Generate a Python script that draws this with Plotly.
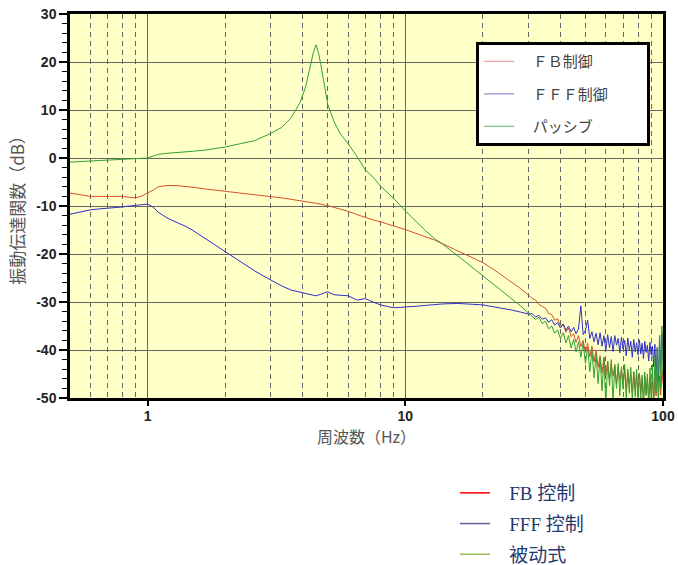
import numpy as np
import plotly.graph_objects as go

# ---------------- data ----------------
freq_lo = [0.5, 0.55, 0.6, 0.65, 0.7, 0.75, 0.8, 0.85, 0.9, 0.95, 1.0, 1.05, 1.1, 1.2, 1.3, 1.4,
           1.5, 1.7, 2.0, 2.3, 2.6, 3.0, 3.3, 3.6, 3.9, 4.1, 4.3, 4.4, 4.5, 4.6, 4.7, 4.85, 5.0,
           5.3, 5.6, 6.0, 6.5, 7.0, 7.5, 8.0, 9.0, 10, 11, 12, 13, 14, 16, 18, 20, 22, 24, 26, 28, 30]

fb_lo = [-7.3, -7.6, -8.0, -8.0, -8.0, -7.9, -8.0, -8.2, -8.3, -7.9, -7.3, -6.7, -6.0, -5.7, -5.75,
         -5.9, -6.1, -6.5, -6.95, -7.2, -7.6, -8.0, -8.3, -8.6, -8.9, -9.0, -9.2, -9.3, -9.4, -9.5,
         -9.6, -9.8, -9.9, -10.3, -10.6, -11.1, -11.8, -12.4, -12.9, -13.3, -14.1, -14.9, -15.7,
         -16.4, -17.1, -17.9, -19.3, -20.7, -21.8, -23.2, -24.6, -26.0, -27.2, -28.5]

fff_lo = [-11.7, -11.2, -10.8, -10.6, -10.5, -10.3, -10.2, -10.0, -9.9, -9.8, -9.6, -10.2, -11.3,
          -12.6, -13.4, -14.2, -15.1, -17.0, -19.5, -21.7, -23.5, -25.4, -26.6, -27.5, -28.0, -28.2,
          -28.5, -28.6, -28.7, -28.6, -28.4, -28.1, -27.9, -28.5, -28.6, -28.7, -29.6, -29.3, -30.0,
          -30.6, -31.2, -31.1, -30.9, -30.7, -30.5, -30.4, -30.3, -30.4, -30.6, -31.0, -31.3, -31.7,
          -32.1, -32.5]

passive_lo = [-0.85, -0.75, -0.65, -0.55, -0.5, -0.4, -0.35, -0.3, -0.25, -0.15, 0.0, 0.4, 0.75,
              1.0, 1.1, 1.25, 1.4, 1.7, 2.3, 3.0, 3.6, 5.1, 6.3, 8.3, 11.5, 14.7, 19.8, 22.0, 23.6,
              22.0, 19.5, 15.0, 11.2, 7.5, 5.0, 3.0, 0.3, -2.5, -4.0, -5.8, -8.4, -11.0, -13.2,
              -15.2, -16.8, -18.0, -20.4, -22.6, -24.5, -26.3, -28.0, -29.4, -30.8, -32.3]

freq_hi = [31, 32, 33, 34, 35, 36, 37, 38, 39, 40, 41, 42, 43, 44, 45, 46, 47, 48, 49, 50,
           51, 52, 53, 54, 55, 56, 57, 58, 59, 60, 61, 62, 63, 64, 65, 66, 67, 68, 69, 70,
           71, 72, 73, 74, 75, 76, 77, 78, 79, 80, 81, 82, 83, 84, 85, 86, 87, 88, 89, 90,
           91, 92, 93, 94, 95, 96, 97, 98, 99, 100]

fb_hi = [-29.2, -29.6, -30.5, -30.9, -31.3, -32.4, -32.6, -33.8, -33.5, -35.0,
         -34.6, -36.3, -35.4, -37.2, -36.6, -38.4, -37.0, -39.3, -38.0, -40.5,
         -38.6, -41.4, -39.2, -42.5, -40.0, -43.6, -41.2, -44.8, -41.5, -45.2,
         -42.3, -46.0, -42.8, -45.5, -43.0, -47.1, -43.6, -46.4, -44.0, -47.5,
         -43.8, -48.2, -44.5, -47.0, -45.1, -49.0, -44.6, -48.0, -45.3, -49.5,
         -45.0, -48.6, -45.8, -50.5, -45.5, -49.2, -46.0, -50.8, -45.7, -49.0,
         -46.2, -51.0, -45.5, -49.6, -44.8, -50.2, -45.4, -49.4, -44.0, -47.0]

fff_hi = [-32.4, -33.1, -32.8, -33.6, -33.3, -34.2, -33.7, -34.8, -34.3, -35.4,
          -34.6, -35.9, -35.0, -36.2, -35.3, -36.6, -35.6, -30.8, -36.8, -35.9,
          -33.8, -37.6, -36.2, -38.3, -36.5, -38.9, -36.4, -39.2, -37.0, -40.1,
          -36.8, -39.5, -37.2, -40.3, -37.0, -39.0, -37.6, -40.6, -37.3, -39.8,
          -38.0, -41.2, -37.5, -40.0, -38.2, -41.5, -37.8, -40.4, -38.5, -41.0,
          -37.9, -40.8, -38.6, -41.8, -38.2, -40.5, -39.0, -42.3, -38.4, -41.0,
          -39.2, -43.5, -38.8, -45.5, -39.5, -46.5, -37.0, -44.0, -36.5, -40.5]

passive_hi = [-32.9, -33.6, -33.2, -34.5, -34.0, -35.6, -35.0, -36.5, -35.8, -37.6,
              -36.4, -38.5, -37.0, -39.6, -37.8, -40.4, -38.3, -41.5, -38.6, -42.8,
              -39.4, -44.5, -40.2, -45.8, -40.8, -47.0, -41.5, -48.5, -41.8, -51.5,
              -42.4, -47.5, -42.0, -51.0, -43.2, -48.0, -42.8, -49.5, -43.5, -48.2,
              -43.0, -50.2, -44.0, -49.0, -43.6, -50.5, -44.5, -49.8, -44.0, -51.0,
              -44.8, -50.0, -45.2, -51.5, -44.6, -49.5, -45.0, -51.2, -43.8, -50.6,
              -43.0, -51.8, -41.5, -49.0, -39.5, -50.5, -37.0, -48.0, -35.0, -45.0]

series_names = ["ＦＢ制御", "ＦＦＦ制御", "パッシブ"]
series_colors = ["#D8502A", "#3030C8", "#33A033"]
legend_colors = ["#E8A0A0", "#9090D0", "#80C080"]

cn_names = ["FB 控制", "FFF 控制", "被动式"]
cn_colors = ["#FF0000", "#6A5A9E", "#9BBB59"]

y_major = [30, 20, 10, 0, -10, -20, -30, -40, -50]
x_major = [1, 10, 100]
x_minor = [0.6, 0.7, 0.8, 0.9, 2, 3, 4, 5, 6, 7, 8, 9, 20, 30, 40, 50, 60, 70, 80, 90]

# ---------------- figure ----------------
fig = go.Figure()
all_series = [(fb_lo, fb_hi), (fff_lo, fff_hi), (passive_lo, passive_hi)]
for i, (lo, hi) in enumerate(all_series):
    fig.add_trace(go.Scatter(
        x=freq_lo + freq_hi, y=lo + hi, mode="lines", name=series_names[i],
        line=dict(color=series_colors[i], width=1), legendgroup="g%d" % i,
        legend="legend", showlegend=False, cliponaxis=True))
    # legend sample entries (paler, as in the reference box)
    fig.add_trace(go.Scatter(
        x=[None], y=[None], mode="lines",
        name="\u00a0\u00a0\u00a0\u00a0" + series_names[i] + "\u00a0" * 10,
        line=dict(color=legend_colors[i], width=1.2), legendgroup="g%d" % i, legend="legend"))

for i in range(3):
    fig.add_trace(go.Scatter(
        x=[None], y=[None], mode="lines", name="\u00a0\u00a0\u00a0" + cn_names[i],
        line=dict(color=cn_colors[i], width=1.5), legendgroup="c%d" % i, legend="legend2"))

grid_col = "#666666"
fig.update_layout(
    width=678, height=565,
    margin=dict(l=70, r=15, t=14, b=167, autoexpand=False),
    paper_bgcolor="white", plot_bgcolor="#FFFFC8",
    font=dict(family="Noto Sans CJK JP, Noto Sans, sans-serif", color="#444"),
    xaxis=dict(
        type="log", range=[np.log10(0.5), 2], tickmode="array", tickvals=x_major,
        ticktext=[str(v) for v in x_major], ticks="outside", ticklen=5, tickcolor="black",
        tickwidth=1.5, ticklabelstandoff=-2,
        tickfont=dict(family="Liberation Sans, Arial", size=14, color="#222", weight="bold"),
        showgrid=True, gridcolor=grid_col, gridwidth=1,
        minor=dict(tickvals=x_minor, showgrid=True, griddash="5px,4px", gridcolor=grid_col,
                   gridwidth=1, ticks=""),
        showline=True, linecolor="black", linewidth=2.5, mirror=True, zeroline=False,
        title=dict(text="周波数（Hz）", standoff=10,
                   font=dict(family="Noto Sans CJK JP", size=16, color="#555")),
    ),
    yaxis=dict(
        range=[-50, 30], tickmode="array", tickvals=y_major,
        ticktext=[str(v) for v in y_major], ticks="outside", ticklen=8, tickwidth=1.5,
        tickcolor="black",
        tickfont=dict(family="Liberation Sans, Arial", size=14, color="#222", weight="bold"),
        showgrid=True, gridcolor=grid_col, gridwidth=1,
        minor=dict(dtick=2, ticks="outside", ticklen=5, tickcolor="black", tickwidth=1,
                   showgrid=False),
        showline=True, linecolor="black", linewidth=2.5, mirror=True, zeroline=False,
        title=dict(text="振動伝達関数（dB）", standoff=8,
                   font=dict(family="Noto Sans CJK JP", size=17, color="#555")),
    ),
    legend=dict(
        x=0.685, y=0.927, xanchor="left", yanchor="top",
        bgcolor="white", bordercolor="black", borderwidth=3,
        font=dict(family="Noto Sans CJK JP", size=15, color="#444"),
        traceorder="grouped", tracegroupgap=10,
    ),
    legend2=dict(
        xref="container", yref="container",
        x=455 / 678, y=1 - 474 / 565, xanchor="left", yanchor="top",
        bgcolor="rgba(0,0,0,0)", borderwidth=0,
        font=dict(family="Liberation Serif, Noto Sans CJK SC", size=19, color="#1F3A6E"),
        traceorder="grouped", tracegroupgap=3,
    ),
)

fig.write_html("out.html", config={"displayModeBar": False},
               post_script="document.body.style.margin='0';document.body.style.overflow='hidden';")
